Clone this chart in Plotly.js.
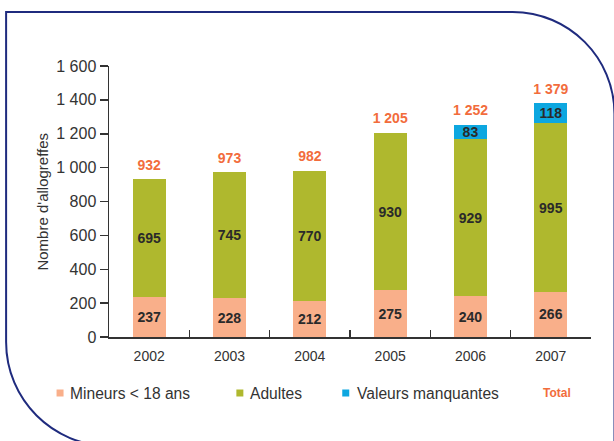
<!DOCTYPE html>
<html><head><meta charset="utf-8">
<script src="https://cdn.plot.ly/plotly-3.0.1.min.js"></script>
<style>html,body{margin:0;padding:0;background:#fff;} #chart{width:614px;height:441px;}</style>
</head><body><div id="chart"></div>
<script>
const years = ['2002','2003','2004','2005','2006','2007'];
const mineurs = [237,228,212,275,240,266];
const adultes = [695,745,770,930,929,995];
const manquantes = [null,null,null,null,83,118];
const totals = [932,973,982,1205,1252,1379];
const seriesNames = ['Mineurs < 18 ans','Adultes','Valeurs manquantes'];
const seriesColors = ['#F9AF8A','#AFB82E','#0DA7E0'];
const totalLabel = 'Total';
const yTitle = "Nombre d'allogreffes";
const yTicks = [0,200,400,600,800,1000,1200,1400,1600];

const FONT = 'Liberation Sans, Arial, sans-serif';
const TXT = '#333333';
const ORANGE = '#F26C3C';
const ML = 109, MR = 22.5, MT = 66, MB = 104, W = 614, H = 441;
const PW = W - ML - MR, PH = H - MT - MB;
const fx = X => (X - ML) / PW;
const fy = Y => (H - MB - Y) / PH;
const fmt = v => String(v).replace(/\B(?=(\d{3})+(?!\d))/g, ' ');

const seriesVals = [mineurs, adultes, manquantes];
const traces = seriesVals.map((vals, i) => ({
  type: 'bar', x: years, y: vals, name: seriesNames[i],
  marker: {color: seriesColors[i], line: {width: 0}},
  width: 0.41,
  text: vals.map(v => v == null ? '' : String(v)),
  textposition: 'inside', insidetextanchor: 'middle', constraintext: 'none', textangle: 0,
  textfont: {family: FONT, size: 14, color: '#2a2a2a', weight: 'bold'},
  showlegend: false, hoverinfo: 'skip'
}));
traces.push({
  type: 'scatter', mode: 'markers+text', x: years, y: totals, name: totalLabel,
  text: totals.map(fmt), textposition: 'top center', cliponaxis: false,
  marker: {size: 8, opacity: 0},
  textfont: {family: FONT, size: 14, color: ORANGE, weight: 'bold'},
  showlegend: false, hoverinfo: 'skip'
});

// decorative frame (pixel -> paper)
function P(X, Y) { return fx(X).toFixed(5) + ',' + fy(Y).toFixed(5); }
const k = 0.5523;
const r1 = 102, r2 = 104;
const framePath =
  'M ' + P(110, 446) +
  ' C ' + P(110 - k*r2, 446) + ' ' + P(6, 342 + k*r2) + ' ' + P(6, 342) +
  ' L ' + P(6, 12) + ' L ' + P(513, 12) +
  ' C ' + P(513 + k*r1, 12) + ' ' + P(615, 114 - k*r1) + ' ' + P(615, 114) +
  ' L ' + P(615, 460);

const shapes = [{type: 'path', xref: 'paper', yref: 'paper', path: framePath,
  line: {color: '#1F2B7E', width: 2}, fillcolor: 'rgba(0,0,0,0)'}];

const legendSquareX = [60, 240, 346];
const legendTextX = [68, 248, 355];
const legendY = 393;
const annotations = [{
  xref: 'paper', yref: 'paper', x: fx(42), y: 0.5, text: yTitle, textangle: -90,
  showarrow: false, font: {family: FONT, size: 15, color: TXT}, xanchor: 'center', yanchor: 'middle'
}];
seriesNames.forEach((n, i) => {
  shapes.push({type: 'rect', xref: 'paper', yref: 'paper',
    x0: fx(legendSquareX[i] - 3.5), x1: fx(legendSquareX[i] + 3.5),
    y0: fy(legendY + 3.5), y1: fy(legendY - 3.5),
    fillcolor: seriesColors[i], line: {width: 0}});
  annotations.push({xref: 'paper', yref: 'paper', x: fx(legendTextX[i]), y: fy(legendY),
    xanchor: 'left', yanchor: 'middle', showarrow: false, text: n,
    font: {family: FONT, size: 15.6, color: TXT}});
});
annotations.push({xref: 'paper', yref: 'paper', x: fx(541), y: fy(legendY),
  xanchor: 'left', yanchor: 'middle', showarrow: false, text: totalLabel,
  font: {family: FONT, size: 12, color: ORANGE, weight: 'bold'}});

const layout = {
  width: W, height: H,
  margin: {l: ML, r: MR, t: MT, b: MB, pad: 0},
  paper_bgcolor: '#ffffff', plot_bgcolor: '#ffffff',
  barmode: 'stack', separators: ', ',
  font: {family: FONT, color: TXT},
  xaxis: {type: 'category', range: [-0.5, 5.5], showgrid: false, zeroline: false,
    showline: true, linecolor: '#333', linewidth: 1.5,
    ticks: 'inside', tickson: 'boundaries', ticklen: 7, tickcolor: '#333', tickwidth: 1.5,
    tickfont: {family: FONT, size: 14, color: TXT}, ticklabelstandoff: 6, fixedrange: true},
  yaxis: {range: [0, 1600], tickvals: yTicks, separatethousands: true, showgrid: false, zeroline: false,
    showline: true, linecolor: '#333', linewidth: 1.5,
    ticks: 'outside', ticklen: 8, tickcolor: '#333', tickwidth: 1.5,
    tickfont: {family: FONT, size: 16, color: TXT}, fixedrange: true},
  shapes: shapes, annotations: annotations, showlegend: false
};
Plotly.newPlot('chart', traces, layout, {displayModeBar: false, staticPlot: true});
</script></body></html>
